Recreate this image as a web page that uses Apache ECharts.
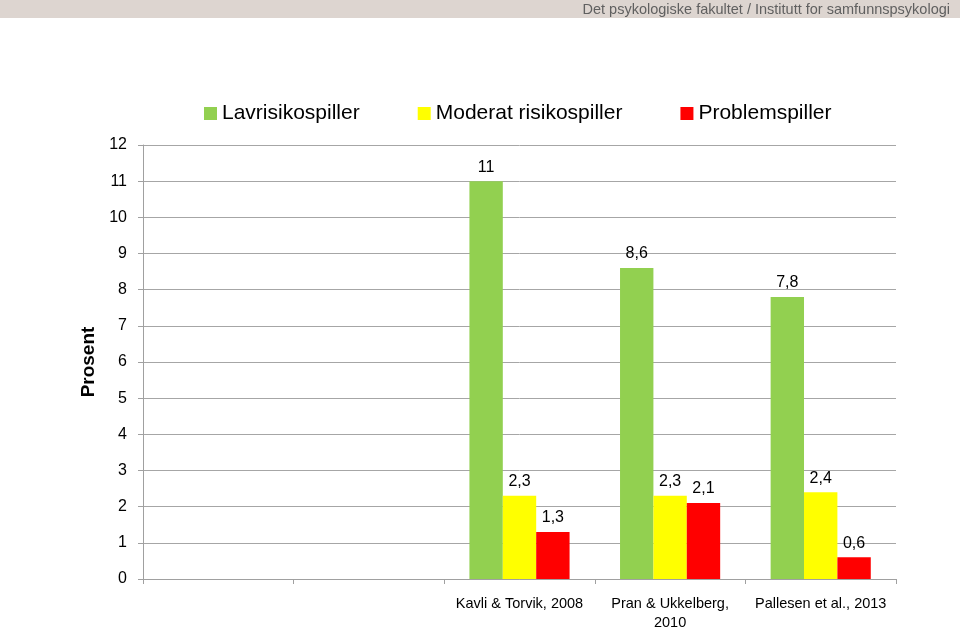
<!DOCTYPE html>
<html>
<head>
<meta charset="utf-8">
<script src="https://cdn.jsdelivr.net/npm/echarts@6/dist/echarts.min.js"></script>
<style>html,body{margin:0;padding:0;background:#fff;}#c{width:960px;height:632px;}</style>
</head>
<body>
<div id="c"></div>
<script>
const categories = ['', '', 'Kavli & Torvik, 2008', 'Pran & Ukkelberg,\n2010', 'Pallesen et al., 2013'];
const seriesNames = ['Lavrisikospiller', 'Moderat risikospiller', 'Problemspiller'];
const lavrisiko = ['-', '-', 11, 8.6, 7.8];
const moderat = ['-', '-', 2.3, 2.3, 2.4];
const problem = ['-', '-', 1.3, 2.1, 0.6];
const yTicks = [0, 12, 1];
const colors = ['#92d050', '#ffff00', '#ff0000'];
const font = '"Liberation Sans", Arial, sans-serif';

const chart = echarts.init(document.getElementById('c'), null, {renderer: 'canvas'});
const mk = (name, data, i) => ({
  name, type: 'bar', data,
  itemStyle: {color: colors[i]},
  barGap: '0%', barCategoryGap: '33.5%',
  label: {
    show: true, position: 'top', distance: 6,
    fontFamily: font, fontSize: 16, color: '#000',
    formatter: p => String(p.value).replace('.', ',')
  }
});
chart.setOption({
  animation: false,
  graphic: [
    {type: 'rect', left: 0, top: 0, shape: {width: 960, height: 18}, style: {fill: '#ddd5d0'}},
    {type: 'text', right: 10, top: 2, style: {text: 'Det psykologiske fakultet / Institutt for samfunnspsykologi', fill: '#606060', font: '14.5px ' + font}}
  ],
  legend: {
    left: 199, top: 98, itemWidth: 13, itemHeight: 13, itemGap: 58,
    icon: 'rect',
    textStyle: {fontFamily: font, fontSize: 21, color: '#000'},
    data: seriesNames
  },
  grid: {left: 143, right: 64, top: 145, bottom: 49, containLabel: false},
  xAxis: {
    type: 'category', data: categories,
    axisLine: {lineStyle: {color: '#a0a0a0', width: 1}},
    axisTick: {show: true, length: 5, alignWithLabel: false, lineStyle: {color: '#a0a0a0'}},
    axisLabel: {fontFamily: font, fontSize: 14.5, color: '#000', margin: 15, lineHeight: 19, interval: 0}
  },
  yAxis: {
    type: 'value', min: yTicks[0], max: yTicks[1], interval: yTicks[2],
    name: 'Prosent', nameLocation: 'middle', nameRotate: 90, nameGap: 42,
    nameTextStyle: {fontFamily: font, fontSize: 19, fontWeight: 'bold', color: '#000'},
    axisLine: {show: true, lineStyle: {color: '#a0a0a0', width: 1}},
    axisTick: {show: true, length: 5, lineStyle: {color: '#a0a0a0'}},
    axisLabel: {fontFamily: font, fontSize: 16, color: '#000', margin: 16},
    splitLine: {show: true, lineStyle: {color: '#a6a6a6', width: 1}}
  },
  series: [mk(seriesNames[0], lavrisiko, 0), mk(seriesNames[1], moderat, 1), mk(seriesNames[2], problem, 2)]
});
</script>
</body>
</html>
